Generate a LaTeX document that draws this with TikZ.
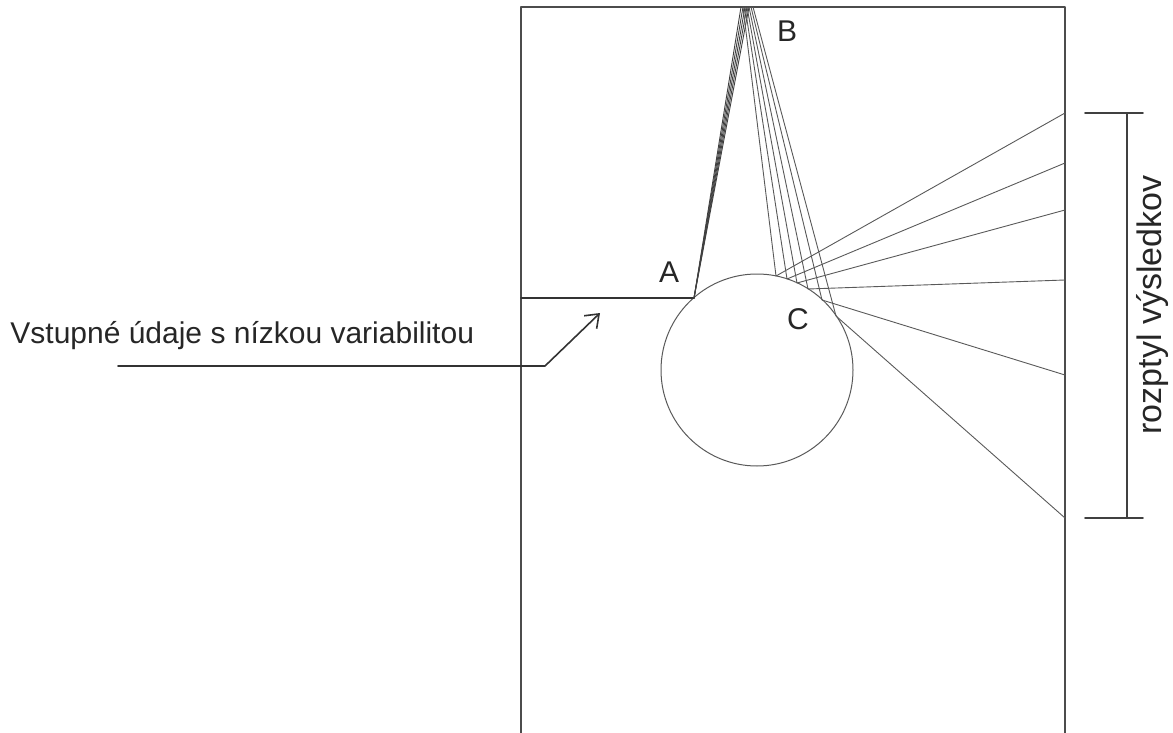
\documentclass[tikz,border=0pt]{standalone}
\usepackage{fontspec}
\setmainfont{Liberation Sans}
\usetikzlibrary{arrows.meta}
\begin{document}
\begin{tikzpicture}[x=0.5pt, y=-0.5pt, font=\fontsize{15}{18}\selectfont, line join=round, line cap=round, >={Straight Barb[length=6pt,width=9pt]}]
	\tikzset{wall/.style={draw=black!70, line width=1pt},
		ray/.style={draw=black!65, line width=0.45pt},
		lbl/.style={inner sep=0pt, text=black!85}}
	\useasboundingbox (0,0) rectangle (1173,733);
	
	% ohranicenie
	\draw[wall] (521,733)--(521,7)--(1065,7)--(1065,733);
	
	% body
	\coordinate (A) at (694,298);
	\coordinate (B) at (747,7);
	\coordinate (O) at (757,370);
	\draw[black!65, line width=0.5pt] (O) circle (96);
	
	% vstup
	\draw[black!80, line width=1pt] (521,298)--(A);
	\foreach \t in {741,743,745,747,749}
		\draw[black!75, line width=0.45pt] (A)--(\t,7);
	
	% lucie z B na kruh a odrazy na stenu
	\foreach \tx/\hx/\hy/\wy [count=\i] in {743/776/276/113, 745/787/279/163, 747/797/283/210, 749/808/289/280, 751/822/300/375, 753/836/316/518}{
		\coordinate (t\i) at (\tx,7);
		\coordinate (h\i) at (\hx,\hy);
		\coordinate (w\i) at (1065,\wy);
		\draw[ray] (t\i)--(h\i)--(w\i);
	}
	
	% popisy
	\node[lbl] (lA) at (669,272) {A};
	\node[lbl] (lB) at (787,31) {B};
	\node[lbl] (lC) at (798,319) {C};
	
	\node[lbl, anchor=base west] (vstup) at (10,343) {Vstupné údaje s nízkou variabilitou};
	\coordinate (k1) at (118,366);
	\coordinate (k2) at (545,366);
	\coordinate (k3) at (600,313);
	\draw[->, black!80, line width=0.8pt] (k1)--(k2)--(k3);
	
	% rozptyl
	\draw[black!75, line width=0.8pt] (1085,113)--(1143,113);
	\draw[black!75, line width=0.8pt] (1085,518)--(1143,518);
	\draw[black!75, line width=0.8pt] (1127,113)--(1127,518);
	\node[lbl, rotate=90, font=\fontsize{17}{20}\selectfont] (rozptyl) at (1152,305) {rozptyl výsledkov};
\end{tikzpicture}
\end{document}
